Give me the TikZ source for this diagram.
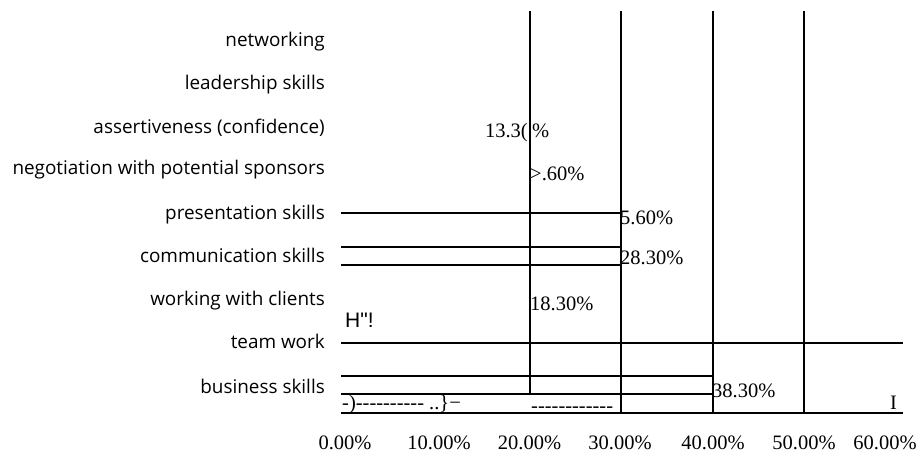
\documentclass[tikz,border=0pt]{standalone}
\usepackage{fontspec}
\newfontfamily\catfont{Open Sans}
\newfontfamily\valfont{Liberation Serif}
\newfontfamily\oddfont{Liberation Sans}
\begin{document}
\begin{tikzpicture}[x=1pt,y=-1pt,
  cat/.style={anchor=base east,inner sep=0pt,font=\catfont\fontsize{18.9}{22}\selectfont},
  val/.style={anchor=base west,inner sep=0pt,font=\valfont\fontsize{20.5}{24}\selectfont},
  tick/.style={anchor=base,inner sep=0pt,font=\valfont\fontsize{20.5}{24}\selectfont},
  bar/.style={line width=2pt}]
\useasboundingbox (0,0) rectangle (920,455);
\pgfmathsetmacro{\xa}{341}
\pgfmathsetmacro{\xb}{530}
\pgfmathsetmacro{\xc}{621}
\pgfmathsetmacro{\xd}{713}
\pgfmathsetmacro{\xe}{804}
\pgfmathsetmacro{\xf}{903}
% grid lines
\draw[bar](\xb,11)--(\xb,394);
\draw[bar](\xc,11)--(\xc,413);
\draw[bar](\xd,11)--(\xd,413);
\draw[bar](\xe,11)--(\xe,413);
% bars
\draw[bar](\xa,213)--(\xc,213);
\draw[bar](\xa,247)--(\xc,247);
\draw[bar](\xa,265)--(\xc,265);
\draw[bar](\xa,343)--(\xf,343);
\draw[bar](\xa,376)--(\xd,376);
\draw[bar](\xa,394)--(\xd,394);
\draw[bar](\xa,413)--(\xf,413);
% categories
\node[cat](networking) at (325,46.5){networking};
\node[cat](leadership) at (325,89.5){leadership skills};
\node[cat](assertive) at (325,133.5){assertiveness (confidence)};
\node[cat](negotiation) at (325,174.5){negotiation with potential sponsors};
\node[cat](presentation) at (325,219.5){presentation skills};
\node[cat](communication) at (325,262.5){communication skills};
\node[cat](clients) at (325,305.5){working with clients};
\node[cat](teamwork) at (325,348.5){team work};
\node[cat](business) at (325,393.5){business skills};
% values
\node[val,anchor=base east](assertiveval) at (528,137){13.3(};
\node[val](assertivepct) at (532,137){\%};
\node[val](negotiationval) at (530,180){>.60\%};
\node[val](presentationval) at (620,224){5.60\%};
\node[val](communicationval) at (620,264){28.30\%};
\node[val](clientsval) at (530,310){18.30\%};
\node[val](businessval) at (712,397){38.30\%};
\node[anchor=base west,inner sep=0pt,font=\oddfont\fontsize{21}{24}\selectfont](glitch) at (345,327.5){H"!};
\node[val](scrawl) at (342,409){-)---------- ..\}−};
\node[val](dashes) at (531,412){------------};
\node[val](bar) at (890,409){I};
% axis
\node[tick](t0) at (345,449){0.00\%};
\node[tick](t10) at (439,449){10.00\%};
\node[tick](t20) at (529.5,449){20.00\%};
\node[tick](t30) at (620,449){30.00\%};
\node[tick](t40) at (713,449){40.00\%};
\node[tick](t50) at (804,449){50.00\%};
\node[tick](t60) at (885,449){60.00\%};
\end{tikzpicture}
\end{document}
